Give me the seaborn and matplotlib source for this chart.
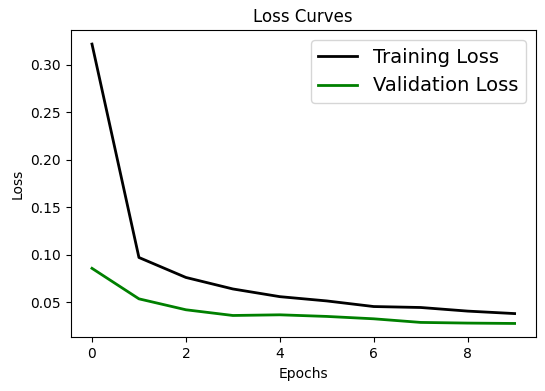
import numpy as np
import pandas as pd
import seaborn as sns
import matplotlib
matplotlib.use("Agg")
import matplotlib.pyplot as plt

# values
epochs = list(range(10))
train_loss = [0.3215, 0.097, 0.076, 0.0639, 0.0558, 0.0513, 0.0454, 0.0444, 0.0406, 0.038]
val_loss = [0.0856, 0.0535, 0.042, 0.036, 0.0367, 0.035, 0.0325, 0.0287, 0.028, 0.0276]

fig = plt.figure(figsize=(5.45, 3.91), dpi=100)
ax = fig.add_axes([0.130, 0.137, 0.853, 0.786])

sns.lineplot(x=epochs, y=train_loss, color="black", linewidth=2, label="Training Loss", ax=ax)
sns.lineplot(x=epochs, y=val_loss, color="green", linewidth=2, label="Validation Loss", ax=ax)

ax.set_title("Loss Curves")
ax.set_xlabel("Epochs")
ax.set_ylabel("Loss")
ax.legend(fontsize=14)

fig.savefig("out.png", dpi=100)
